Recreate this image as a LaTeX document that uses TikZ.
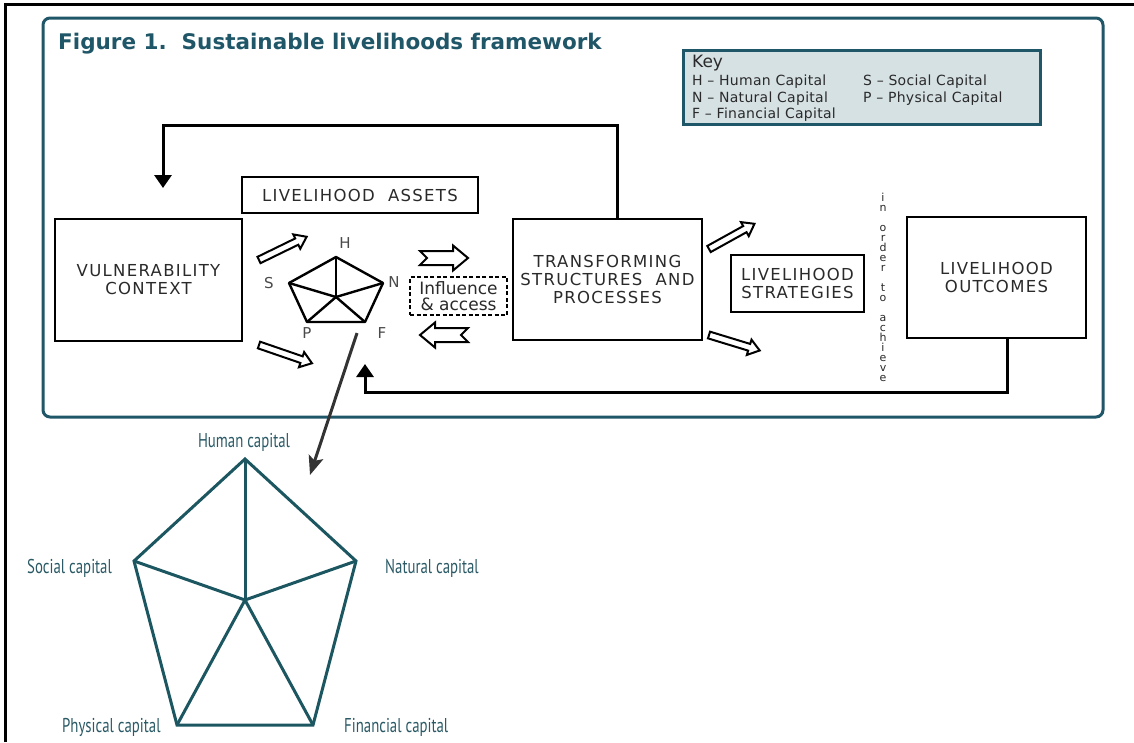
\documentclass[tikz,border=0pt]{standalone}
\usepackage{fontspec}
\setmainfont{DejaVu Sans}
\newfontfamily\capfont[FakeStretch=0.74]{PT Sans}
\usetikzlibrary{arrows.meta}

\definecolor{frameteal}{HTML}{1F5668}
\definecolor{keyfill}{HTML}{D6E1E4}
\definecolor{textteal}{HTML}{2A5A66}
\definecolor{penteal}{HTML}{1C5761}
\definecolor{ink}{HTML}{2A2A2A}

\newcommand\lblboxfont{\fontsize{16.5}{18}\selectfont\addfontfeature{LetterSpace=8}}
\newcommand\keyfont{\fontsize{14}{16}\selectfont\addfontfeature{LetterSpace=2}}

% hollow straight arrow: tail point, angle, length
\newcommand\hollowarrow[4]{%
  \draw[arrowoutline, shift={(#1,#2)}, rotate=#3]
    (0,-3.5) -- (#4-11,-3.5) -- (#4-11,-8) -- (#4,0) -- (#4-11,8)
    -- (#4-11,3.5) -- (0,3.5) -- cycle;}
% block arrow with notched tail: centre, angle
\newcommand\notchedarrow[3]{%
  \draw[arrowoutline, shift={(#1,#2)}, rotate=#3]
    (-24,-7) -- (9,-7) -- (9,-12.5) -- (24,0) -- (9,12.5) -- (9,7)
    -- (-24,7) -- (-17,0) -- cycle;}

\tikzset{
  box/.style={draw=black, line width=2.4pt, align=center, text=ink,
    font=\lblboxfont, inner sep=0pt},
  arrowoutline/.style={draw=black, line width=2pt, fill=white, line join=miter},
  feedback/.style={draw=black, line width=3pt,
    -{Triangle[width=17pt,length=13pt]}},
  keytext/.style={anchor=base west, inner sep=0pt, text=ink, font=\keyfont},
  capletter/.style={inner sep=0pt, text=ink!85, font=\fontsize{15}{16}\selectfont},
  penline/.style={line width=2.4pt, line join=round},
  bigpen/.style={draw=penteal, line width=3pt, line join=miter},
  caplabel/.style={inner sep=0pt, text=textteal, font=\capfont\fontsize{20}{22}\selectfont},
}

\begin{document}
\begin{tikzpicture}[x=1pt,y=-1pt]
\useasboundingbox (0,0) rectangle (1134,742);
\fill[white] (0,0) rectangle (1134,742);

% page rules and figure frame
\draw[line width=3pt] (5.5,742) -- (5.5,4) -- (1134,4);
\draw[frameteal, line width=3pt, rounded corners=7pt] (43,18) rectangle (1103,417);

\node[anchor=base west, inner sep=0pt, text=frameteal,
  font=\bfseries\fontsize{21.5}{24}\selectfont] (title) at (58,49)
  {Figure 1.\ \ Sustainable livelihoods framework};

% key
\node[draw=frameteal, line width=3pt, fill=keyfill, minimum width=357pt,
  minimum height=74pt, inner sep=0pt] (key) at (861.5,87) {};
\node[keytext, font=\fontsize{17}{18}\selectfont] (keyhead) at (692,67) {Key};
\node[keytext] (kH) at (692,85) {H -- Human Capital};
\node[keytext] (kS) at (863,85) {S -- Social Capital};
\node[keytext] (kN) at (692,102) {N -- Natural Capital};
\node[keytext] (kP) at (863,102) {P -- Physical Capital};
\node[keytext] (kF) at (692,118) {F -- Financial Capital};

% framework boxes
\node[box, minimum width=187pt, minimum height=122pt] (vc) at (148.5,280) {VULNERABILITY\\CONTEXT};
\node[box, minimum width=236pt, minimum height=36pt] (la) at (360,195) {LIVELIHOOD\ \ ASSETS};
\node[box, minimum width=189pt, minimum height=121pt] (tsp) at (607.5,279.5) {TRANSFORMING\\STRUCTURES\ \ AND\\PROCESSES};
\node[box, minimum width=133pt, minimum height=57pt] (ls) at (797.5,283.5) {LIVELIHOOD\\STRATEGIES};
\node[box, minimum width=179pt, minimum height=121pt] (lo) at (996.5,277.5) {LIVELIHOOD\\OUTCOMES};
\node[draw=black, line width=2pt, dash pattern=on 4pt off 2.5pt, align=center,
  minimum width=97pt, minimum height=38pt, inner sep=0pt, text=ink,
  font=\fontsize{17}{15.5}\selectfont] (infl) at (458.5,296) {Influence\\\& access};

\node[anchor=north, inner sep=0pt, align=center, text=ink,
  font=\fontsize{11}{10}\selectfont] (achieve) at (883,193)
  {i\\n\\[10pt]o\\r\\d\\e\\r\\[10pt]t\\o\\[10pt]a\\c\\h\\i\\e\\v\\e};

% small asset pentagon
\coordinate (sH) at (336,257);
\coordinate (sS) at (289,283);
\coordinate (sN) at (383,283);
\coordinate (sP) at (307,322);
\coordinate (sF) at (365,322);
\coordinate (sC) at (336,297);
\draw[penline] (sH) -- (sN) -- (sF) -- (sP) -- (sS) -- cycle;
\foreach \v in {sH,sS,sN,sP,sF} \draw[penline] (sC) -- (\v);
\node[capletter] (lH) at (345,243) {H};
\node[capletter] (lS) at (269,283) {S};
\node[capletter] (lN) at (394,282) {N};
\node[capletter] (lP) at (307,333) {P};
\node[capletter] (lF) at (382,333) {F};

% flow arrows
\hollowarrow{259}{260}{26}{53}
\hollowarrow{259}{345}{-19}{56}
\hollowarrow{709}{249}{29}{52}
\hollowarrow{709}{335}{-17}{53}
\notchedarrow{444}{258}{0}
\notchedarrow{444}{335}{180}

% feedback loops
\coordinate (fbR) at (617,125);
\coordinate (fbL) at (163,125);
\coordinate (fbTip) at (163,188);
\draw[feedback] (tsp.north -| fbR) -- (fbR) -- (fbL) -- (fbTip);
\coordinate (bbR) at (1007,392);
\coordinate (bbL) at (365,392);
\coordinate (bbTip) at (365,364);
\draw[feedback] (lo.south -| bbR) -- (bbR) -- (bbL) -- (bbTip);

% pointer to the enlarged pentagon
\coordinate (zoomFrom) at (357,333);
\coordinate (zoomTo) at (310,475);
\draw[draw=black!80, line width=3pt, -{Stealth[width=15pt,length=19pt,inset=4pt]}] (zoomFrom) -- (zoomTo);

% enlarged asset pentagon
\coordinate (bH) at (245,459);
\coordinate (bS) at (134,561);
\coordinate (bN) at (356,561);
\coordinate (bP) at (177,725);
\coordinate (bF) at (313,725);
\coordinate (bC) at (245,600);
\draw[bigpen] (bH) -- (bN) -- (bF) -- (bP) -- (bS) -- cycle;
\foreach \v in {bH,bS,bN,bP,bF} \draw[bigpen] (bC) -- (\v);
\node[caplabel, anchor=base] (cH) at (244,447) {Human capital};
\node[caplabel, anchor=base west] (cS) at (27,573) {Social capital};
\node[caplabel, anchor=base west] (cN) at (385,573) {Natural capital};
\node[caplabel, anchor=base west] (cP) at (62,732) {Physical capital};
\node[caplabel, anchor=base west] (cF) at (344,732) {Financial capital};
\end{tikzpicture}
\end{document}
